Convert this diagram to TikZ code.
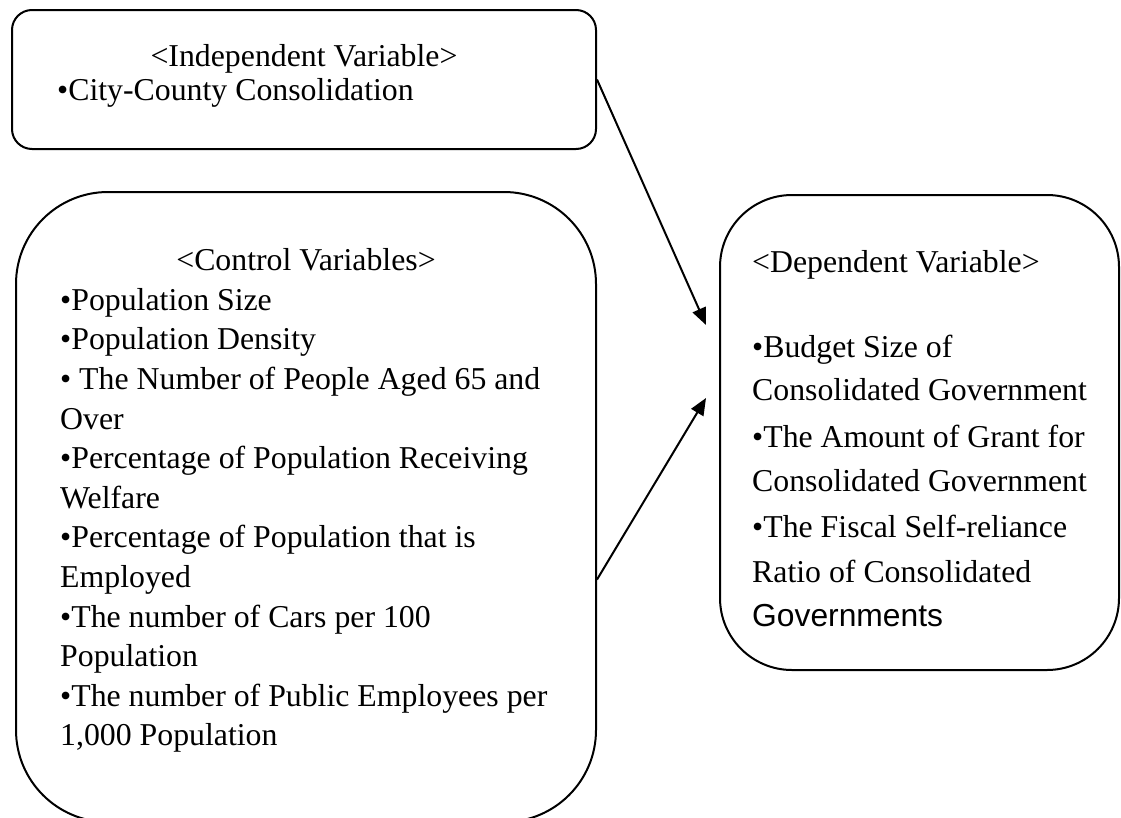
\documentclass[tikz,border=0pt]{standalone}
\usepackage{fontspec}
\setmainfont{Liberation Serif}
\newfontfamily\arialfont{Liberation Sans}
\usepackage{tikz}
\usetikzlibrary{arrows.meta}

\tikzset{
  varbox/.style={draw,line width=2pt,inner sep=0pt},
  txt/.style={inner sep=0pt,anchor=base west},
  link/.style={line width=2pt,-{Triangle[length=17pt,width=14pt]}}
}

\begin{document}
\begin{tikzpicture}[x=1pt,y=-1pt,font=\fontsize{31.8}{39.6}\selectfont]
\useasboundingbox (0,0) rectangle (1121,817);
% boxes
\node[varbox,rounded corners=20pt,minimum width=584pt,minimum height=139pt] (indep) at (304,79.5){};
\node[varbox,rounded corners=92pt,minimum width=580pt,minimum height=630pt] (ctl) at (306,507){};
\node[varbox,rounded corners=72pt,minimum width=399pt,minimum height=475pt] (dep) at (919.5,432.5){};
% independent variable
\node[txt,anchor=base] (indep-title) at (304,66){<Independent Variable>};
\node[txt] (indep-1) at (57,100){•City-County Consolidation};
% control variables
\node[txt,anchor=base] (ctl-title) at (306,270.7){<Control Variables>};
\foreach \t [count=\i] in {{•Population Size},{•Population Density},{• The Number of People Aged 65 and},{Over},
  {•Percentage of Population Receiving},{Welfare},{•Percentage of Population that is},{Employed},
  {•The number of Cars per 100},{Population},{•The number of Public Employees per},{1,000 Population}}
  {\node[txt] (ctl-\i) at (60,{270.7+39.6*\i}){\t};}
% dependent variable
\node[txt] (dep-title) at (752,272){<Dependent Variable>};
\foreach \y/\t [count=\i] in {357/{•Budget Size of},400/{Consolidated Government},447/{•The Amount of Grant for},
  491/{Consolidated Government},537/{•The Fiscal Self-reliance},582/{Ratio of Consolidated}}
  {\node[txt] (dep-\i) at (752,\y){\t};}
\node[txt] (dep-7) at (752,626){\arialfont Governments};
% arrows
\coordinate (headA) at (706,325);
\coordinate (headB) at (706,398);
\draw[link] (indep.east) -- (headA);
\draw[link] (ctl.-14.5) -- (headB);
\end{tikzpicture}
\end{document}
